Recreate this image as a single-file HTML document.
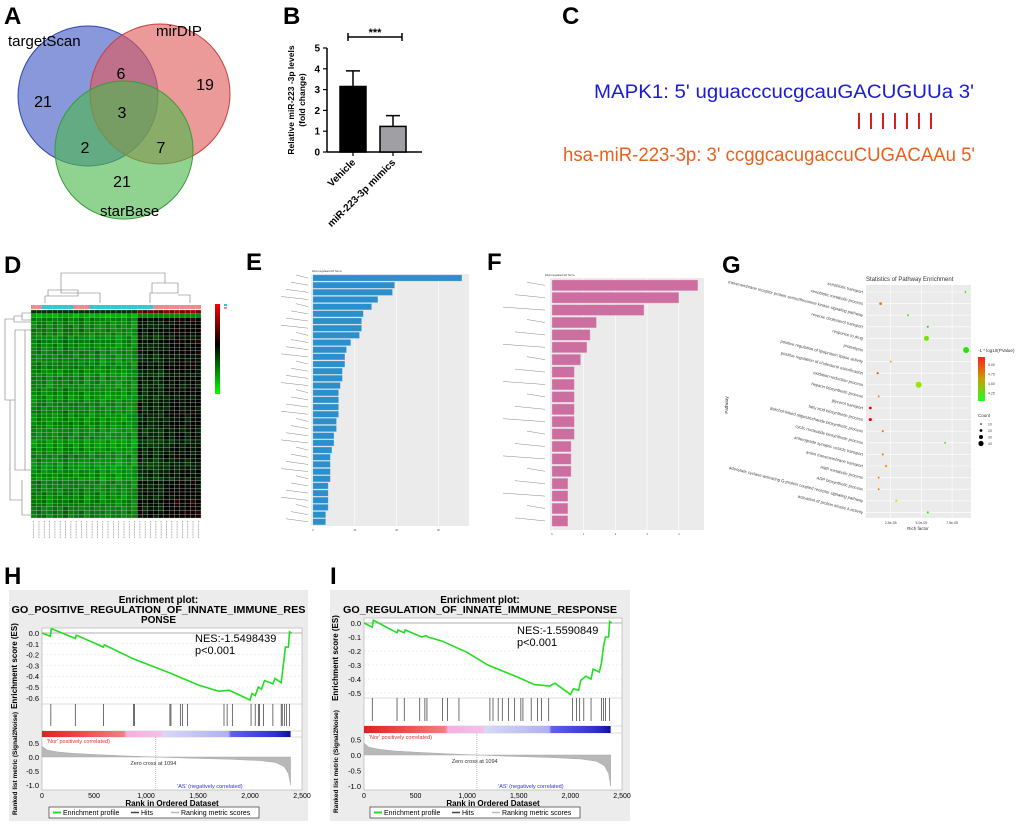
<!DOCTYPE html>
<html><head><meta charset="utf-8"><style>
html,body{margin:0;padding:0;background:#fff;}
svg{display:block;font-family:"Liberation Sans",sans-serif;}
</style></head><body>
<svg id="fig" width="1020" height="824" viewBox="0 0 1020 824" xmlns="http://www.w3.org/2000/svg">
<defs>
<linearGradient id="hmLeg" x1="0" y1="0" x2="0" y2="1"><stop offset="0" stop-color="#ff0000"/><stop offset="0.45" stop-color="#000"/><stop offset="1" stop-color="#00ff00"/></linearGradient>
<linearGradient id="gLeg" x1="0" y1="0" x2="0" y2="1"><stop offset="0" stop-color="#ff2020"/><stop offset="0.5" stop-color="#c8a000"/><stop offset="1" stop-color="#20ff20"/></linearGradient>
<linearGradient id="gsBar" x1="0" y1="0" x2="1" y2="0"><stop offset="0" stop-color="#e02020"/><stop offset="0.18" stop-color="#f05050"/><stop offset="0.33" stop-color="#f08080"/><stop offset="0.34" stop-color="#f4b0e0"/><stop offset="0.48" stop-color="#f4c0e8"/><stop offset="0.49" stop-color="#d8d8f8"/><stop offset="0.75" stop-color="#b0b0f0"/><stop offset="0.76" stop-color="#6060f0"/><stop offset="0.94" stop-color="#3030d0"/><stop offset="1" stop-color="#1010a0"/></linearGradient>
</defs>
<g font-weight="bold" font-size="24" fill="#000">
<text x="4" y="24">A</text>
<text x="283" y="24">B</text>
<text x="562" y="24">C</text>
<text x="4" y="273">D</text>
<text x="246" y="270">E</text>
<text x="487" y="270">F</text>
<text x="722" y="273">G</text>
<text x="4" y="584">H</text>
<text x="330" y="584">I</text>
</g>
<g>
<circle cx="88" cy="96" r="70" fill="#4a5fc8" fill-opacity="0.65" stroke="#2e46b0" stroke-width="1"/>
<circle cx="160" cy="94" r="70" fill="#e05a5a" fill-opacity="0.62" stroke="#c84040" stroke-width="1"/>
<circle cx="124" cy="150" r="69" fill="#4cb84c" fill-opacity="0.62" stroke="#3a9a3a" stroke-width="1"/>
<g font-size="15" fill="#000">
<text x="8" y="46">targetScan</text>
<text x="156" y="36">mirDIP</text>
<text x="100" y="216">starBase</text>
<g text-anchor="middle" font-size="16">
<text x="43" y="107">21</text>
<text x="121" y="79">6</text>
<text x="205" y="90">19</text>
<text x="122" y="118">3</text>
<text x="85" y="153">2</text>
<text x="161" y="153">7</text>
<text x="122" y="187">21</text>
</g></g></g>
<g>
<text x="594" y="98" font-family="Liberation Sans, sans-serif" font-size="19" fill="#1a1ad8" textLength="380" lengthAdjust="spacingAndGlyphs">MAPK1: 5' uguacccucgcauGACUGUUa 3'</text>
<g stroke="#d82020" stroke-width="2">
<line x1="859" y1="113" x2="859" y2="129"/><line x1="871" y1="113" x2="871" y2="129"/><line x1="883" y1="113" x2="883" y2="129"/><line x1="895" y1="113" x2="895" y2="129"/><line x1="907" y1="113" x2="907" y2="129"/><line x1="919" y1="113" x2="919" y2="129"/><line x1="931" y1="113" x2="931" y2="129"/>
</g>
<text x="563" y="161" font-family="Liberation Sans, sans-serif" font-size="19" fill="#e8601c" textLength="412" lengthAdjust="spacingAndGlyphs">hsa-miR-223-3p: 3' ccggcacugaccuCUGACAAu 5'</text>
</g>
<g id="gB"></g>
<g id="gD"></g>
<g id="gE"></g>
<g id="gF"></g>
<g id="gG"></g>
<g id="gH"></g>
<g id="gI"></g>
</svg>
<script>
const bCats = ['Vehicle', 'miR-223-3p mimics'];
const bVals = [3.15, 1.23];
const bErr = [0.75, 0.52];
const bTicks = [0, 1, 2, 3, 4, 5];

const hmColBase = [-0.6,-0.4,-0.5,-0.7,-0.5,-0.6,-0.3,-0.5,-0.6,-0.4,-0.7,-0.6,-0.5,-0.8,-0.6,-0.7,-0.8,-0.7,-0.6,-0.8,1.4,1.2,1.3,1.1,1.2,1.5,1.6,1.8,1.7,1.6,1.8,1.7];
const hmColJit = [0.3,-0.2,0.1,0.4,-0.3,0.2,-0.1,0.3,-0.4,0.1,0.2,-0.3,0.4,-0.1,0.2,-0.4,0.1,0.3,-0.2,0.0,0.2,-0.3,0.1,0.3,-0.2,0.4,-0.1,0.2,-0.3,0.1,0.3,-0.2];
const hmRowOff = [1.2,-0.9,0.3,0.1,0.0,0.2,0.1,-0.1,0.3,0.0,0.1,0.2,-0.1,0.0,0.1,0.2,0.0,-0.2,0.1,0.0,-0.1,0.1,0.0,-0.2,0.0,0.1,-0.1,0.2,0.0,-0.1,0.1,0.0,-0.2,-0.1,0.0,-0.3,-0.2,0.0,-0.1,0.1,-0.2,-0.3,-0.2,-0.1,0.0,-0.3,0.2,0.0,0.1,0.2,0.0,0.3,0.2,0.1,0.3,0.2];
const hmGroups = ['c','c','a','a','a','a','a','a','c','c','c','a','a','a','a','a','a','a','a','a','a','a','a','c','c','c','c','c','c','c','c','c'];

const eVals = [35.6,19.5,19.0,15.5,14.0,12.0,11.6,11.6,11.1,9.0,8.0,7.6,7.6,7.0,7.0,6.5,6.1,6.1,6.1,6.1,5.6,5.6,5.0,5.0,4.5,4.1,4.1,4.1,4.1,3.6,3.6,3.6,3.6,3.0,3.0];
const eTicks = [0, 10, 20, 30];

const fVals = [4.6,4.0,2.9,1.4,1.2,1.1,0.9,0.7,0.7,0.7,0.7,0.7,0.7,0.6,0.6,0.6,0.5,0.5,0.5,0.5];
const fTicks = [0, 1, 2, 3, 4];

const gPathways = ['xenobiotic transport','xenobiotic metabolic process','transmembrane receptor protein serine/threonine kinase signaling pathway','reverse cholesterol transport','response to drug','proteolysis','positive regulation of lipoprotein lipase activity','positive regulation of cholesterol esterification','oxidation-reduction process','heparin biosynthetic process','glycerol transport','fatty acid biosynthetic process','dolichol-linked oligosaccharide biosynthetic process','cyclic nucleotide biosynthetic process','anterograde synaptic vesicle transport','anion transmembrane transport','AMP metabolic process','ADP biosynthetic process','adenylate cyclase-activating G-protein coupled receptor signaling pathway','activation of protein kinase A activity'];
const gRich = [8.59,1.68,3.91,5.52,5.41,8.64,2.5,1.44,4.78,1.52,0.84,0.84,1.85,6.93,1.85,2.12,1.52,1.52,2.96,5.52];
const gCount = [2,5,3,3,12,15,2,3,15,2,5,6,3,2,3,4,2,2,4,3];
const gLogP = [4.1,4.9,4.3,4.1,4.3,4.1,4.8,5.0,4.4,4.9,5.2,5.2,4.9,4.2,4.9,4.8,4.9,4.9,4.6,4.1];
const gTicks = [2.5, 5.0, 7.5];
const gTickLabels = ['2.5e-05','5.0e-05','7.5e-05'];

const hRanks = [0,80,90,320,330,590,600,880,1230,1500,1700,1800,2000,2020,2050,2080,2110,2140,2220,2240,2300,2310,2330,2340,2370,2380,2400];
const hES = [0,-0.03,0.04,-0.05,-0.02,-0.13,-0.11,-0.24,-0.37,-0.48,-0.54,-0.53,-0.62,-0.56,-0.58,-0.5,-0.52,-0.44,-0.47,-0.42,-0.46,-0.38,-0.22,-0.13,-0.13,0.01,0.0];
const hHits = [85,320,590,880,890,1230,1240,1330,1350,1400,1750,1780,1830,2010,2050,2080,2090,2130,2220,2300,2310,2330,2350,2380];
const iRanks = [0,80,90,320,330,390,400,560,600,620,760,1000,1200,1500,1650,1800,1850,2000,2030,2080,2100,2150,2200,2220,2280,2300,2320,2340,2370,2380,2400];
const iES = [0,-0.03,0.02,-0.07,-0.05,-0.07,-0.05,-0.1,-0.09,-0.1,-0.13,-0.21,-0.3,-0.39,-0.44,-0.45,-0.43,-0.51,-0.47,-0.48,-0.41,-0.38,-0.4,-0.33,-0.35,-0.29,-0.17,-0.1,-0.1,0.01,0.0];
const iHits = [80,320,390,540,590,610,760,810,920,1220,1250,1300,1340,1400,1460,1520,1540,1620,1680,1720,1790,2020,2060,2090,2130,2200,2300,2320,2340,2380];
const rmRanks = [0,50,150,300,500,800,1094,1400,1800,2100,2250,2330,2370,2390];
const rmVals = [0.38,0.25,0.18,0.13,0.09,0.04,0.0,-0.04,-0.08,-0.13,-0.2,-0.35,-0.6,-1.0];
const rankTicks = [0,500,1000,1500,2000,2500];
const rankTickLabels = ['0','500','1,000','1,500','2,000','2,500'];

const NS = 'http://www.w3.org/2000/svg';
function mk(tag, attrs, parent) {
  const e = document.createElementNS(NS, tag);
  for (const k in attrs) e.setAttribute(k, attrs[k]);
  parent.appendChild(e);
  return e;
}
function txt(parent, x, y, s, attrs) {
  const e = mk('text', Object.assign({x: x, y: y}, attrs || {}), parent);
  e.textContent = s;
  return e;
}

(function () {
  const g = document.getElementById('gB');
  const yB = v => 152 - v * 20.8;
  const xC = [353, 393];
  let el = mk('line', {x1: 327, y1: yB(5), x2: 327, y2: yB(0), stroke: '#000', 'stroke-width': 1.5}, g);
  
  
  el = mk('line', {x1: 327, y1: yB(0), x2: 422, y2: yB(0), stroke: '#000', 'stroke-width': 1.5}, g);
  
  
  bTicks.forEach(t => {
    const tk = mk('line', {x1: 323, y1: yB(t), x2: 327, y2: yB(t), stroke: '#000', 'stroke-width': 1.2}, g);
    
    
    const tl = txt(g, 320, yB(t) + 3.5, String(t), {'text-anchor': 'end', 'font-size': 10, 'font-weight': 'bold'});
    
    
  });
  bVals.forEach((v, i) => {
    const er = mk('path', {d: `M${xC[i]} ${yB(v)}V${yB(v + bErr[i])}M${xC[i]-7} ${yB(v + bErr[i])}H${xC[i]+7}`, stroke: '#000', 'stroke-width': 1.5, fill: 'none'}, g);
    
    
    const r = mk('rect', {x: xC[i] - 13, y: yB(v), width: 26, height: yB(0) - yB(v), fill: i === 0 ? '#000' : '#a0a0a4', stroke: '#000', 'stroke-width': 1.5}, g);
    
    
    const tk = mk('line', {x1: xC[i], y1: yB(0), x2: xC[i], y2: yB(0) + 4, stroke: '#000', 'stroke-width': 1.2}, g);
    
    
    const lb = txt(g, xC[i] + 3, 163, bCats[i], {'text-anchor': 'end', 'font-size': 10, 'font-weight': 'bold', transform: `rotate(-45 ${xC[i] + 3} 163)`});
    
    
  });
  el = mk('path', {d: 'M348 33V41M348 37H402M402 33V41', stroke: '#000', 'stroke-width': 1.5, fill: 'none'}, g);
  
  
  el = txt(g, 375, 36, '***', {'text-anchor': 'middle', 'font-size': 11, 'font-weight': 'bold'});
  
  
  el = txt(g, 294, 100, 'Relative miR-223 -3p levels', {'text-anchor': 'middle', 'font-size': 8.5, 'font-weight': 'bold', transform: 'rotate(-90 294 100)'});
  
  
  el = txt(g, 305, 100, '(fold change)', {'text-anchor': 'middle', 'font-size': 8.5, 'font-weight': 'bold', transform: 'rotate(-90 305 100)'});
  
  
})();

(function () {
  const g = document.getElementById('gD');
  const x0 = 31, y0 = 310, cw = 170 / hmColBase.length, rh = 208 / hmRowOff.length;
  const cl = v => Math.max(0, Math.min(1, v));
  hmRowOff.forEach((ro, r) => {
    hmColBase.forEach((cb, c) => {
      let v = cb + ro * (c >= 20 ? 1.6 : 0.8) + hmColJit[(c + r * 7) % 32] * 0.8;
      if (r === 0 && c < 20) v = 1.0;
      if (r === 1 && c >= 20) v = -0.6;
      const gg = Math.round(235 * cl((1.9 - v) / 4.2));
      const rr = Math.round(255 * cl((v - 2) / 3));
      const cell = mk('rect', {x: x0 + c * cw, y: y0 + r * rh, width: cw, height: rh, fill: `rgb(${rr},${gg},${Math.round(gg*0.05)})`, stroke: '#b8b8b8', 'stroke-width': 0.3}, g);
      
      
    });
  });
  hmGroups.forEach((gr, c) => {
    const b = mk('rect', {x: x0 + c * cw, y: 305, width: cw, height: 4, fill: gr === 'a' ? '#2ec8d8' : '#f08a86'}, g);
    
    
  });
  let el = mk('path', {d: 'M61 290V273H165V283M45 303V296H78V290H48V296M100 303V293H61V290M150 303V293H178V283H152V293M190 303V295H178', stroke: '#777', 'stroke-width': 0.6, fill: 'none'}, g);
  
  
  el = mk('path', {d: 'M31 313H22V320H31M22 316H14V322H31M14 319H5V400H15M15 330V470H25V330H15M25 330H31M25 470H31M5 400H10V500H22M22 480V515H31', stroke: '#777', 'stroke-width': 0.6, fill: 'none'}, g);
  
  
  el = mk('rect', {x: 215, y: 304, width: 5, height: 90, fill: 'url(#hmLeg)'}, g);
  
  
  el = mk('rect', {x: 224, y: 304, width: 3, height: 2, fill: '#2ec8d8'}, g);
  
  
  el = mk('rect', {x: 224, y: 307, width: 3, height: 2, fill: '#f08a86'}, g);
  
  
  for (let c = 0; c < hmColBase.length; c++) {
    const l = mk('line', {x1: x0 + c * cw + cw / 2, y1: 521, x2: x0 + c * cw + cw / 2, y2: 538, stroke: '#999', 'stroke-width': 0.8, 'stroke-dasharray': '1 0.6'}, g);
    
    
  }
})();

(function () {
  const g = document.getElementById('gE');
  const xE = v => 313 + v * 4.18;
  let el = mk('rect', {x: 311, y: 274, width: 158, height: 252, fill: '#ebebeb'}, g);
  
  
  eTicks.forEach(t => {
    const l = mk('line', {x1: xE(t), y1: 274, x2: xE(t), y2: 526, stroke: '#fff', 'stroke-width': 0.6}, g);
    
    
    const tl = txt(g, xE(t), 531, String(t), {'text-anchor': 'middle', 'font-size': 2.5, fill: '#444'});
    
    
  });
  eVals.forEach((v, i) => {
    const yc = 278 + i * 7.17;
    const r = mk('rect', {x: xE(0), y: yc - 3, width: xE(v) - xE(0), height: 6, fill: '#2b8fcb', stroke: '#7ab8e0', 'stroke-width': 0.3}, g);
    
    
    const lb = mk('line', {x1: 308 - 12 - (i % 4) * 5, y1: yc - 3, x2: 308, y2: yc, stroke: '#888', 'stroke-width': 0.5}, g);
    
    
  });
  el = txt(g, 312, 272, 'Down-regulated GO Terms', {'font-size': 2.5, fill: '#333'});
  
  
})();

(function () {
  const g = document.getElementById('gF');
  const xF = v => 552 + v * 31.7;
  let el = mk('rect', {x: 550, y: 278, width: 154, height: 252, fill: '#ebebeb'}, g);
  
  
  fTicks.forEach(t => {
    const l = mk('line', {x1: xF(t), y1: 278, x2: xF(t), y2: 530, stroke: '#fff', 'stroke-width': 0.6}, g);
    
    
    const tl = txt(g, xF(t), 535, String(t), {'text-anchor': 'middle', 'font-size': 2.5, fill: '#444'});
    
    
  });
  fVals.forEach((v, i) => {
    const yc = 285.3 + i * 12.4;
    const r = mk('rect', {x: xF(0), y: yc - 5.3, width: xF(v) - xF(0), height: 10.6, fill: '#cc6fa0', stroke: '#e8b0cc', 'stroke-width': 0.4}, g);
    
    
    const lb = mk('line', {x1: 545 - 18 - (i % 3) * 12, y1: yc - 3, x2: 545, y2: yc, stroke: '#888', 'stroke-width': 0.5}, g);
    
    
  });
  el = txt(g, 545, 276, 'Down-regulated GO Terms', {'font-size': 2.5, fill: '#333'});
  
  
})();

(function () {
  const g = document.getElementById('gG');
  const xG = v => 860 + v * 12.28;
  const yG = i => 292 + i * 11.6;
  let el = mk('rect', {x: 866, y: 285, width: 105, height: 233, fill: '#ebebeb'}, g);
  
  
  gTicks.forEach((t, k) => {
    const l = mk('line', {x1: xG(t), y1: 285, x2: xG(t), y2: 518, stroke: '#fff', 'stroke-width': 0.6}, g);
    
    
    const tl = txt(g, xG(t), 524, gTickLabels[k], {'text-anchor': 'middle', 'font-size': 3.5, fill: '#444'});
    
    
  });
  gPathways.forEach((p, i) => {
    const l = mk('line', {x1: 866, y1: yG(i), x2: 971, y2: yG(i), stroke: '#fff', 'stroke-width': 0.6}, g);
    
    
    const tl = txt(g, 863, yG(i) + 1.5, p, {'text-anchor': 'end', 'font-size': 4.2, fill: '#444', transform: `rotate(14 863 ${yG(i)})`});
    
    
  });
  gRich.forEach((v, i) => {
    const t = Math.max(0, Math.min(1, (gLogP[i] - 4.1) / 1.1));
    const d = mk('circle', {cx: xG(v), cy: yG(i), r: 0.6 + gCount[i] * 0.16, fill: `hsl(${Math.round(110 * (1 - t))},100%,${t > 0.5 ? 48 : 45}%)`}, g);
    
    
  });
  el = txt(g, 866, 281, 'Statistics of Pathway Enrichment', {'font-size': 6, fill: '#333'});
  
  
  el = txt(g, 918, 530, 'Rich factor', {'text-anchor': 'middle', 'font-size': 4.5, fill: '#333'});
  
  
  el = txt(g, 728, 405, 'Pathway', {'text-anchor': 'middle', 'font-size': 4.5, fill: '#333', transform: 'rotate(-90 728 405)'});
  
  
  el = txt(g, 978, 352, '-1 * log10(PValue)', {'font-size': 4.5, fill: '#333'});
  
  
  el = mk('rect', {x: 978, y: 357, width: 7, height: 44, fill: 'url(#gLeg)'}, g);
  
  
  ['5.00', '4.75', '4.50', '4.25'].forEach((s, k) => {
    const tl = txt(g, 988, 366 + k * 9.5, s, {'font-size': 3.5, fill: '#444'});
    
    
  });
  el = txt(g, 978, 417, 'Count', {'font-size': 4.5, fill: '#333'});
  
  
  [10, 20, 30, 40].forEach((c, k) => {
    const d = mk('circle', {cx: 981, cy: 424 + k * 6.5, r: 0.8 + k * 0.6, fill: '#000'}, g);
    
    
    const tl = txt(g, 988, 425.5 + k * 6.5, String(c), {'font-size': 3.5, fill: '#444'});
    
    
  });
})();

function gsea(g, P, ranks, es, hits, esTicks, titleLines, nes) {
  const xR = r => P.x0 + (P.x1 - P.x0) * r / 2500;
  const yE = v => P.esZero - v * P.esPer * 10;
  const yM = v => P.rmZero - v * P.rmPer;
  let el = mk('rect', {x: P.fx, y: 590, width: P.fw, height: 231, fill: '#ececec'}, g);
  
  
  el = mk('rect', {x: P.x0, y: P.esTop, width: P.x1 - P.x0, height: P.rmBot - P.esTop, fill: '#fff', stroke: '#aaa', 'stroke-width': 0.6}, g);
  
  
  [P.esBot, P.hitsBot, P.barBot].forEach(y => {
    const l = mk('line', {x1: P.x0, y1: y, x2: P.x1, y2: y, stroke: '#bbb', 'stroke-width': 0.6}, g);
    
    
  });
  titleLines.forEach((s, k) => {
    const t = txt(g, P.fx + P.fw / 2, 603 + k * 10, s, Object.assign({'text-anchor': 'middle', 'font-size': 10, 'font-weight': 'bold'}, k === 1 ? {textLength: P.titleW, lengthAdjust: 'spacingAndGlyphs'} : {}));
    
    
  });
  esTicks.forEach(t => {
    const l = mk('line', {x1: P.x0, y1: yE(t), x2: P.x1, y2: yE(t), stroke: '#ddd', 'stroke-width': 0.5, 'stroke-dasharray': '2 2'}, g);
    
    
    const tl = txt(g, P.x0 - 3, yE(t) + 3, t.toFixed(1), {'text-anchor': 'end', 'font-size': 7.5});
    
    
  });
  el = mk('line', {x1: P.x0, y1: yE(0), x2: P.x1, y2: yE(0), stroke: '#999', 'stroke-width': 0.7}, g);
  
  
  el = mk('polyline', {points: ranks.map((r, k) => xR(r) + ',' + yE(es[k])).join(' '), fill: 'none', stroke: '#22dd22', 'stroke-width': 1.6}, g);
  
  
  hits.forEach(h => {
    const l = mk('line', {x1: xR(h), y1: P.esBot, x2: xR(h), y2: P.hitsBot - 5, stroke: '#333', 'stroke-width': 0.7}, g);
    
    
  });
  el = mk('rect', {x: xR(0), y: P.hitsBot, width: xR(2390) - xR(0), height: P.barBot - P.hitsBot, fill: 'url(#gsBar)'}, g);
  
  
  const pts = rmRanks.map((r, k) => xR(r) + ',' + yM(rmVals[k]));
  el = mk('polygon', {points: xR(0) + ',' + yM(0) + ' ' + pts.join(' ') + ' ' + xR(2390) + ',' + yM(0), fill: '#b8b8b8', stroke: '#aaa', 'stroke-width': 0.5}, g);
  
  
  el = mk('line', {x1: xR(1094), y1: P.barBot, x2: xR(1094), y2: P.rmBot, stroke: '#999', 'stroke-width': 0.6, 'stroke-dasharray': '1 1'}, g);
  
  
  [0.5, 0.0, -0.5, -1.0].forEach(t => {
    const tl = txt(g, P.x0 - 3, yM(t) + 3, t.toFixed(1), {'text-anchor': 'end', 'font-size': 7.5});
    
    
  });
  rankTicks.forEach((t, k) => {
    const tl = txt(g, xR(t), P.rmBot + 8, rankTickLabels[k], {'text-anchor': 'middle', 'font-size': 7});
    
    
  });
  el = txt(g, (P.x0 + P.x1) / 2, P.rmBot + 16, 'Rank in Ordered Dataset', {'text-anchor': 'middle', 'font-size': 8, 'font-weight': 'bold'});
  
  
  el = txt(g, P.fx + 8, (P.esTop + P.esBot) / 2, 'Enrichment score (ES)', {'text-anchor': 'middle', 'font-size': 8, 'font-weight': 'bold', transform: `rotate(-90 ${P.fx + 8} ${(P.esTop + P.esBot) / 2})`});
  
  
  el = txt(g, P.fx + 8, (P.barBot + P.rmBot) / 2, 'Ranked list metric (Signal2Noise)', {'text-anchor': 'middle', 'font-size': 6.5, 'font-weight': 'bold', transform: `rotate(-90 ${P.fx + 8} ${(P.barBot + P.rmBot) / 2})`});
  
  
  el = txt(g, P.x0 + 5, P.barBot + 6, "'Nor' positively correlated)", {'font-size': 5.5, fill: '#e03030'});
  
  
  el = txt(g, xR(850), yM(0) + 8, 'Zero cross at 1094', {'font-size': 5.5, fill: '#333'});
  
  
  el = txt(g, xR(1300), P.rmBot - 2, "'AS' (negatively correlated)", {'font-size': 5.5, fill: '#3030e0'});
  
  
  el = txt(g, P.nesX, P.nesY, nes, {'font-size': 11});
  
  
  el = txt(g, P.nesX, P.nesY + 12, 'p<0.001', {'font-size': 11});
  
  
  const lx = P.fx + 40;
  el = mk('rect', {x: lx, y: 807, width: 210, height: 11, fill: '#fff', stroke: '#333', 'stroke-width': 0.7}, g);
  
  
  el = mk('line', {x1: lx + 4, y1: 812.5, x2: lx + 12, y2: 812.5, stroke: '#22dd22', 'stroke-width': 2}, g);
  
  
  el = txt(g, lx + 14, 815, 'Enrichment profile', {'font-size': 7});
  
  
  el = mk('line', {x1: lx + 82, y1: 812.5, x2: lx + 90, y2: 812.5, stroke: '#444', 'stroke-width': 1.5}, g);
  
  
  el = txt(g, lx + 92, 815, 'Hits', {'font-size': 7});
  
  
  el = mk('line', {x1: lx + 122, y1: 812.5, x2: lx + 130, y2: 812.5, stroke: '#bbb', 'stroke-width': 1.5}, g);
  
  
  el = txt(g, lx + 132, 815, 'Ranking metric scores', {'font-size': 7});
  
  
}
gsea(document.getElementById('gH'),
  {fx: 9, fw: 299, x0: 42, x1: 302, esTop: 628, esBot: 704, esZero: 633, esPer: 10.8, hitsBot: 731, barBot: 737, rmZero: 757, rmPer: 28, rmBot: 790, titleW: 294, nesX: 195, nesY: 642},
  hRanks, hES, hHits, [0, -0.1, -0.2, -0.3, -0.4, -0.5, -0.6],
  ['Enrichment plot:', 'GO_POSITIVE_REGULATION_OF_INNATE_IMMUNE_RES', 'PONSE'], 'NES:-1.5498439');
gsea(document.getElementById('gI'),
  {fx: 330, fw: 300, x0: 364, x1: 622, esTop: 618, esBot: 698, esZero: 623, esPer: 14, hitsBot: 726, barBot: 733, rmZero: 755, rmPer: 31, rmBot: 790, titleW: 274, nesX: 517, nesY: 634},
  iRanks, iES, iHits, [0, -0.1, -0.2, -0.3, -0.4, -0.5],
  ['Enrichment plot:', 'GO_REGULATION_OF_INNATE_IMMUNE_RESPONSE'], 'NES:-1.5590849');
</script>
</body></html>
